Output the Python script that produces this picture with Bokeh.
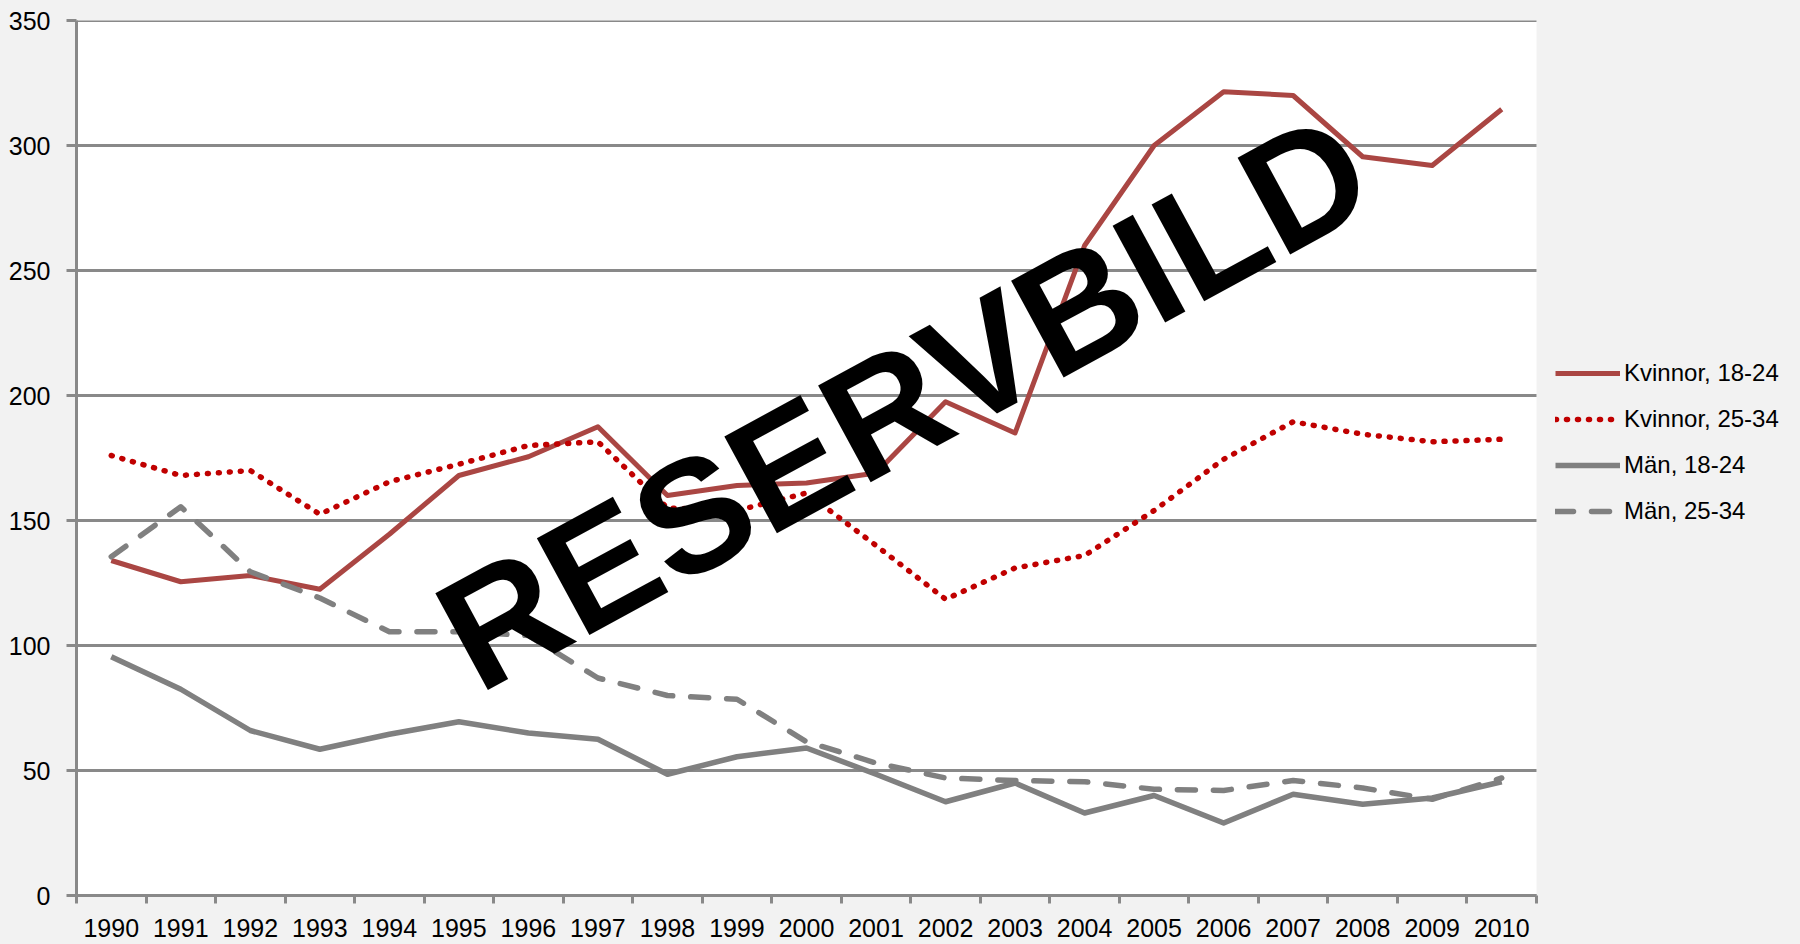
import math
from bokeh.plotting import figure
from bokeh.models import Range1d, FixedTicker, Legend, LegendItem, Label, BoxAnnotation
from bokeh.embed import file_html
from bokeh.resources import INLINE

# ---- data ----
years = ["1990", "1991", "1992", "1993", "1994", "1995", "1996", "1997", "1998", "1999", "2000",
         "2001", "2002", "2003", "2004", "2005", "2006", "2007", "2008", "2009", "2010"]
kvinnor_18_24 = [134, 125.5, 128, 122.5, 144.5, 168, 175.5, 187.5, 160, 164, 165,
                 169, 197.5, 185, 260, 300, 321.5, 320, 295.5, 292, 314.5]
kvinnor_25_34 = [176, 168, 170, 152.5, 165.5, 172.5, 180, 181.5, 155, 154, 161,
                 140, 118.5, 131, 136, 154, 174.5, 189.5, 184.5, 181.5, 182.5]
man_18_24 = [95.5, 82.5, 66, 58.5, 64.5, 69.5, 65, 62.5, 48.5, 55.5, 59,
             48.5, 37.5, 45, 33, 40, 29, 40.5, 36.5, 39, 45.5]
man_25_34 = [135.5, 155.5, 129.5, 119, 105.5, 105.5, 104, 87, 80, 78.5, 61.5,
             53, 47, 46, 45.5, 42.5, 42, 46, 43, 38.5, 47]
y_ticks = [0, 50, 100, 150, 200, 250, 300, 350]
series_names = ["Kvinnor, 18-24", "Kvinnor, 25-34", "Män, 18-24", "Män, 25-34"]
watermark = "RESERVBILD"

FONT = "Liberation Sans"
GRID = "#898989"
BG = "#f2f2f2"

W, H = 1800, 944
LEFT, PLOT_W = 76, 1460          # plot area: left border and pixel width of the category span
n = len(years)
x = [i + 0.5 for i in range(n)]
x_end = n * (W - LEFT) / PLOT_W  # frame continues to the right to host the legend

p = figure(width=W, height=H, x_range=Range1d(0, x_end), y_range=Range1d(0, 350),
           output_backend="svg", toolbar_location=None,
           min_border_left=LEFT, min_border_right=0, min_border_top=20, min_border_bottom=49,
           background_fill_color=BG, border_fill_color=BG, outline_line_color=None)

# white plot area over the category span only
p.add_layout(BoxAnnotation(left=0, right=n, fill_color="white", fill_alpha=1,
                           line_color=None, level="underlay"))

# axes
p.xaxis.bounds = (0, n)
p.xaxis.ticker = FixedTicker(ticks=x, minor_ticks=list(range(n + 1)))
p.xaxis.major_label_overrides = {xi: yr for xi, yr in zip(x, years)}
p.xaxis.major_tick_out = 0
p.xaxis.major_tick_in = 0
p.xaxis.minor_tick_out = 8
p.xaxis.minor_tick_in = 0
p.xaxis.minor_tick_line_color = GRID
p.xaxis.minor_tick_line_width = 3
p.xaxis.axis_line_color = GRID
p.xaxis.axis_line_width = 3
p.xaxis.major_label_standoff = 15
p.xaxis.major_label_text_font = FONT
p.xaxis.major_label_text_font_size = "25px"
p.xaxis.major_label_text_color = "black"

p.yaxis.ticker = FixedTicker(ticks=y_ticks)
p.yaxis.major_tick_out = 10
p.yaxis.major_tick_in = 0
p.yaxis.minor_tick_out = 0
p.yaxis.minor_tick_in = 0
p.yaxis.major_tick_line_color = GRID
p.yaxis.major_tick_line_width = 3
p.yaxis.axis_line_color = GRID
p.yaxis.axis_line_width = 3
p.yaxis.major_label_standoff = 16
p.yaxis.major_label_text_font = FONT
p.yaxis.major_label_text_font_size = "25px"
p.yaxis.major_label_text_color = "black"

p.xgrid.visible = False
p.ygrid.visible = False
# horizontal gridlines limited to the category span
p.segment(x0=[0] * len(y_ticks), x1=[n] * len(y_ticks), y0=y_ticks, y1=y_ticks,
          line_color=GRID, line_width=3)

# series
r1 = p.line(x, kvinnor_18_24, line_color="#AA4643", line_width=5, line_join="round")
r2 = p.line(x, kvinnor_25_34, line_color="#C00000", line_width=5.5, line_dash="1 10",
            line_cap="round", line_join="round")
r3 = p.line(x, man_18_24, line_color="#808080", line_width=5.5, line_join="round")
r4 = p.line(x, man_25_34, line_color="#808080", line_width=5.5, line_dash="18 18",
            line_cap="round", line_join="round")

legend = Legend(items=[LegendItem(label=nm, renderers=[r]) for nm, r in zip(series_names, [r1, r2, r3, r4])],
                location=(PLOT_W + 19, 370), orientation="vertical",
                glyph_width=65, glyph_height=28, label_height=28, spacing=18,
                padding=0, margin=0, border_line_color=None, background_fill_alpha=0,
                label_text_font=FONT, label_text_font_size="24px", label_text_color="black",
                label_standoff=4)
p.add_layout(legend)

p.add_layout(Label(x=11.9, y=197.8, text=watermark, angle=math.radians(28.5),
                   text_font="Liberation Sans", text_font_style="bold", text_font_size="160px",
                   text_align="center", text_baseline="alphabetic", text_color="black"))

html = file_html(p, INLINE)
html = html.replace("<head>", "<head><style>body{background:#f2f2f2;}</style>", 1)
open("out.html", "w").write(html)
